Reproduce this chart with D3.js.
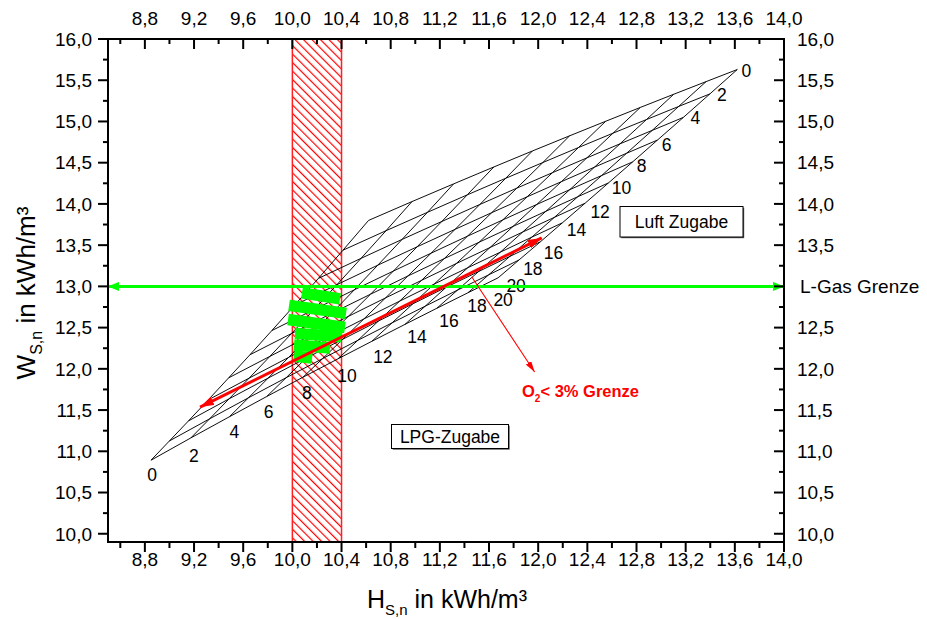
<!DOCTYPE html>
<html><head><meta charset="utf-8">
<script src="https://cdn.jsdelivr.net/npm/d3@7"></script>
<style>
html,body{margin:0;padding:0;background:#fff;}
svg{display:block;font-family:"Liberation Sans",Arial,sans-serif;}
</style></head><body>
<svg id="chart" width="927" height="619"></svg>
<script>
// ---------------- data ----------------
const lpgLevels = [0, 2, 4, 6, 8, 10, 12, 14, 16, 18, 20];   // labels along lower edge
const airLevels = [0, 2, 4, 6, 8, 10, 12, 14, 16, 18, 20];   // labels along right edge
// meshHs[i][k]: H_S,n for LPG level i and air level k
const meshHs = [
  [10.620, 10.412, 10.212, 10.019, 9.833, 9.655, 9.482, 9.316, 9.155, 9.000, 8.850],
  [10.973, 10.762, 10.559, 10.363, 10.175, 9.993, 9.818, 9.649, 9.485, 9.327, 9.174],
  [11.312, 11.099, 10.893, 10.695, 10.504, 10.320, 10.142, 9.970, 9.804, 9.643, 9.488],
  [11.639, 11.423, 11.216, 11.015, 10.822, 10.636, 10.455, 10.281, 10.112, 9.949, 9.791],
  [11.953, 11.736, 11.526, 11.324, 11.129, 10.940, 10.758, 10.582, 10.411, 10.246, 10.086],
  [12.256, 12.038, 11.826, 11.622, 11.425, 11.235, 11.051, 10.873, 10.700, 10.533, 10.371],
  [12.549, 12.328, 12.116, 11.910, 11.712, 11.520, 11.334, 11.154, 10.980, 10.811, 10.647],
  [12.831, 12.609, 12.396, 12.189, 11.989, 11.796, 11.609, 11.427, 11.251, 11.081, 10.916],
  [13.103, 12.881, 12.666, 12.458, 12.257, 12.063, 11.874, 11.692, 11.515, 11.343, 11.176],
  [13.366, 13.143, 12.928, 12.719, 12.517, 12.322, 12.132, 11.948, 11.770, 11.597, 11.429],
  [13.620, 13.397, 13.181, 12.971, 12.769, 12.572, 12.382, 12.197, 12.018, 11.843, 11.674]
];
// meshWs[i][k]: W_S,n for LPG level i and air level k
const meshWs = [
  [13.800, 13.439, 13.097, 12.773, 12.464, 12.171, 11.891, 11.624, 11.369, 11.126, 10.892],
  [14.028, 13.675, 13.340, 13.021, 12.718, 12.428, 12.152, 11.888, 11.636, 11.394, 11.162],
  [14.243, 13.898, 13.570, 13.257, 12.958, 12.673, 12.400, 12.139, 11.889, 11.649, 11.419],
  [14.448, 14.110, 13.787, 13.480, 13.186, 12.905, 12.636, 12.378, 12.130, 11.892, 11.664],
  [14.642, 14.311, 13.994, 13.692, 13.403, 13.126, 12.860, 12.605, 12.360, 12.124, 11.898],
  [14.826, 14.502, 14.191, 13.894, 13.609, 13.336, 13.073, 12.821, 12.579, 12.346, 12.121],
  [15.002, 14.684, 14.379, 14.086, 13.806, 13.536, 13.277, 13.028, 12.788, 12.557, 12.334],
  [15.170, 14.858, 14.558, 14.270, 13.994, 13.728, 13.472, 13.226, 12.989, 12.760, 12.539],
  [15.330, 15.023, 14.729, 14.446, 14.173, 13.911, 13.659, 13.415, 13.180, 12.954, 12.735],
  [15.483, 15.182, 14.892, 14.614, 14.345, 14.087, 13.837, 13.597, 13.364, 13.140, 12.923],
  [15.630, 15.334, 15.049, 14.775, 14.510, 14.255, 14.009, 13.771, 13.541, 13.319, 13.104]
];
const xTickValues = [8.8, 9.2, 9.6, 10.0, 10.4, 10.8, 11.2, 11.6, 12.0, 12.4, 12.8, 13.2, 13.6, 14.0];
const xTickLabels = ["8,8","9,2","9,6","10,0","10,4","10,8","11,2","11,6","12,0","12,4","12,8","13,2","13,6","14,0"];
const yTickValues = [10.0, 10.5, 11.0, 11.5, 12.0, 12.5, 13.0, 13.5, 14.0, 14.5, 15.0, 15.5, 16.0];
const yTickLabels = ["10,0","10,5","11,0","11,5","12,0","12,5","13,0","13,5","14,0","14,5","15,0","15,5","16,0"];
const lGasLimitWs = 13.0;
const bandHs = [10.0, 10.4];
const o2ArrowHs = [9.249, 12.029];
const o2ArrowWs = [11.536, 13.588];
const o2PointerHs = [11.459, 11.971];
const o2PointerWs = [13.116, 11.961];
const sampleStartHs = [10.078, 9.973, 9.965, 10.022, 10.013, 10.013];
const sampleStartWs = [12.921, 12.769, 12.599, 12.430, 12.288, 12.155];
const sampleEndHs   = [10.388, 10.437, 10.428, 10.402, 10.306, 10.160];
const sampleEndWs   = [12.848, 12.672, 12.502, 12.388, 12.252, 12.130];

// ---------------- layout ----------------
const L = 108, R = 784, T = 39, B = 542;
const svg = d3.select("#chart");
const x = d3.scaleLinear().domain([8.5, 14.0]).range([L, R]);
const y = d3.scaleLinear().domain([9.9, 16.0]).range([B, T]);
const lowerLabelOffsets = [[1,15],[3,18],[5,15],[2,15],[4,16],[9,17],[11,16],[12,13],[12,13],[9,13],[5,22]];
const rightLabelOffsets = [[9,1],[12,1],[12,1],[9,5],[9,4],[13,5],[15,9],[14,7],[13,11],[14,9],[18,8]];

const defs = svg.append("defs");
const pat = defs.append("pattern").attr("id","hatch").attr("patternUnits","userSpaceOnUse")
  .attr("width",6).attr("height",6).attr("patternTransform","rotate(-45)");
pat.append("rect").attr("width",6).attr("height",6).attr("fill","#fff");
pat.append("line").attr("x1",0.6).attr("y1",0).attr("x2",0.6).attr("y2",6)
  .attr("stroke","#ff0000").attr("stroke-width",1.2);

function marker(id, len, half, color) {
  defs.append("marker").attr("id", id).attr("markerUnits","userSpaceOnUse")
    .attr("viewBox", `0 0 ${len} ${half*2}`).attr("refX", len).attr("refY", half)
    .attr("markerWidth", len).attr("markerHeight", half*2).attr("orient","auto-start-reverse")
    .append("path").attr("d", `M0,0L${len},${half}L0,${half*2}Z`).attr("fill", color);
}
marker("headRed", 14, 4.5, "#ff0000");
marker("headRedThin", 11, 3.2, "#ff0000");
marker("headGreen", 11, 4.5, "#00ff00");

// hatched band
svg.append("rect").attr("x", x(bandHs[0])).attr("y", T)
  .attr("width", x(bandHs[1]) - x(bandHs[0])).attr("height", B - T)
  .attr("fill","url(#hatch)").attr("stroke","#ff2020").attr("stroke-width",1.5);

// mesh
const line = d3.line().x(d => x(d[0])).y(d => y(d[1]));
const meshG = svg.append("g").attr("fill","none").attr("stroke","#000").attr("stroke-width",0.95);
lpgLevels.forEach((lv, i) => {
  meshG.append("path").attr("d", line(airLevels.map((a, k) => [meshHs[i][k], meshWs[i][k]])));
});
airLevels.forEach((a, k) => {
  meshG.append("path").attr("d", line(lpgLevels.map((lv, i) => [meshHs[i][k], meshWs[i][k]])));
});

// mesh labels
const lblG = svg.append("g").attr("font-size", 17.5).attr("text-anchor","middle").attr("fill","#000");
lpgLevels.forEach((lv, i) => {
  const k = airLevels.length - 1;
  lblG.append("text").attr("x", x(meshHs[i][k]) + lowerLabelOffsets[i][0])
    .attr("y", y(meshWs[i][k]) + lowerLabelOffsets[i][1] + 6).text(lv);
});
airLevels.forEach((a, k) => {
  const i = lpgLevels.length - 1;
  lblG.append("text").attr("x", x(meshHs[i][k]) + rightLabelOffsets[k][0])
    .attr("y", y(meshWs[i][k]) + rightLabelOffsets[k][1] + 6).text(a);
});

// L-Gas limit line
svg.append("path").attr("d", line([[8.5, lGasLimitWs], [14.0, lGasLimitWs]]))
  .attr("stroke","#00ff00").attr("stroke-width",3).attr("fill","none")
  .attr("marker-start","url(#headGreen)").attr("marker-end","url(#headGreen)");

// measured samples (green)
sampleStartHs.forEach((h, i) => {
  svg.append("line").attr("x1", x(h)).attr("y1", y(sampleStartWs[i]))
    .attr("x2", x(sampleEndHs[i])).attr("y2", y(sampleEndWs[i]))
    .attr("stroke","#00ff00").attr("stroke-width",11.5).attr("stroke-linecap","butt");
});

// red arrows
svg.append("path").attr("d", line(o2ArrowHs.map((h, i) => [h, o2ArrowWs[i]])))
  .attr("stroke","#ff0000").attr("stroke-width",3).attr("fill","none")
  .attr("marker-start","url(#headRed)").attr("marker-end","url(#headRed)");
svg.append("path").attr("d", line(o2PointerHs.map((h, i) => [h, o2PointerWs[i]])))
  .attr("stroke","#ff0000").attr("stroke-width",1.1).attr("fill","none")
  .attr("marker-end","url(#headRedThin)");

// O2 label
const o2 = svg.append("text").attr("x", 522).attr("y", 397).attr("fill","#ff0000")
  .attr("font-weight","bold").attr("font-size",16.5);
o2.append("tspan").text("O");
o2.append("tspan").attr("font-size",10).attr("dy",5).text("2");
o2.append("tspan").attr("dy",-5).text("< 3% Grenze");

// text boxes
function box(x0, y0, x1, y1, label) {
  svg.append("rect").attr("x", x0 + 1.2).attr("y", y0 + 1.2).attr("width", x1 - x0).attr("height", y1 - y0)
    .attr("fill","#555");
  svg.append("rect").attr("x", x0).attr("y", y0).attr("width", x1 - x0).attr("height", y1 - y0)
    .attr("fill","#fff").attr("stroke","#000").attr("stroke-width",1);
  svg.append("text").attr("x", (x0 + x1) / 2).attr("y", (y0 + y1) / 2 + 6.3)
    .attr("text-anchor","middle").attr("font-size",17.5).text(label);
}
box(620, 206.5, 743, 237, "Luft Zugabe");
box(391.5, 424.5, 508.5, 448.5, "LPG-Zugabe");

svg.append("text").attr("x", 800).attr("y", 293).attr("font-size",19).text("L-Gas Grenze");

// axes frame
const axG = svg.append("g").attr("stroke","#000").attr("stroke-width",2).attr("fill","none");
axG.append("rect").attr("x", L).attr("y", T).attr("width", R - L).attr("height", B - T);
const xMinor = xTickValues.map(v => v - 0.2);
const yMinor = yTickValues.slice(0, -1).map(v => v + 0.25);
xTickValues.forEach(v => {
  axG.append("line").attr("x1", x(v)).attr("x2", x(v)).attr("y1", B).attr("y2", B + 10);
  axG.append("line").attr("x1", x(v)).attr("x2", x(v)).attr("y1", T).attr("y2", T + 10);
});
xMinor.forEach(v => {
  axG.append("line").attr("x1", x(v)).attr("x2", x(v)).attr("y1", B).attr("y2", B + 6);
  axG.append("line").attr("x1", x(v)).attr("x2", x(v)).attr("y1", T).attr("y2", T + 5);
});
yTickValues.forEach(v => {
  axG.append("line").attr("x1", L - 10).attr("x2", L).attr("y1", y(v)).attr("y2", y(v));
  axG.append("line").attr("x1", R - 10).attr("x2", R).attr("y1", y(v)).attr("y2", y(v));
});
yMinor.forEach(v => {
  axG.append("line").attr("x1", L - 5).attr("x2", L).attr("y1", y(v)).attr("y2", y(v));
  axG.append("line").attr("x1", R - 5).attr("x2", R).attr("y1", y(v)).attr("y2", y(v));
});

const tl = svg.append("g").attr("font-size",19).attr("fill","#000");
xTickValues.forEach((v, i) => {
  tl.append("text").attr("x", x(v)).attr("y", 566).attr("text-anchor","middle").text(xTickLabels[i]);
  tl.append("text").attr("x", x(v)).attr("y", 25).attr("text-anchor","middle").text(xTickLabels[i]);
});
yTickValues.forEach((v, i) => {
  tl.append("text").attr("x", 92).attr("y", y(v) + 6.8).attr("text-anchor","end").text(yTickLabels[i]);
  // right axis: the L-Gas label takes the place of the 13,0 label
  if (v !== lGasLimitWs) {
    tl.append("text").attr("x", 797).attr("y", y(v) + 6.8).attr("text-anchor","start").text(yTickLabels[i]);
  }
});

// axis titles
const xt = svg.append("text").attr("x", 447).attr("y", 608).attr("text-anchor","middle").attr("font-size",25);
xt.append("tspan").text("H");
xt.append("tspan").attr("font-size",15).attr("dy",7).text("S,n");
xt.append("tspan").attr("dy",-7).text(" in kWh/m³");
const yt = svg.append("text").attr("transform","translate(35,293) rotate(-90)")
  .attr("text-anchor","middle").attr("font-size",26);
yt.append("tspan").text("W");
yt.append("tspan").attr("font-size",16).attr("dy",7).text("S,n");
yt.append("tspan").attr("dy",-7).text(" in kWh/m³");
</script>
</body></html>
